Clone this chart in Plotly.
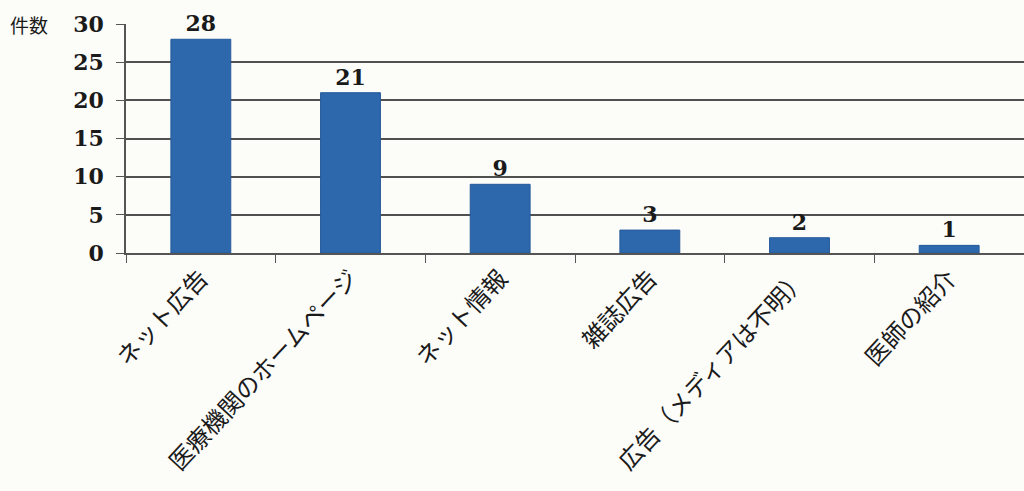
import plotly.graph_objects as go

categories = ["ネット広告", "医療機関のホームページ", "ネット情報", "雑誌広告", "広告（メディアは不明）", "医師の紹介"]
values = [28, 21, 9, 3, 2, 1]
y_ticks = [0, 5, 10, 15, 20, 25, 30]

fig = go.Figure()
fig.add_trace(go.Bar(
    x=categories, y=values,
    marker=dict(color="#2d68ad", line=dict(color="#25599a", width=1)),
    width=0.4,
    text=[f"<b>{v}</b>" for v in values],
    textposition="outside",
    textfont=dict(family="DejaVu Serif", size=22, color="#1a1a1a"),
    cliponaxis=False,
))

fig.update_layout(
    width=1024, height=491,
    margin=dict(l=126, r=0, t=24, b=238, autoexpand=False),
    paper_bgcolor="#fcfcf9", plot_bgcolor="#fcfcf9",
    showlegend=False,
    font=dict(family="Noto Sans CJK JP", color="#1a1a1a"),
    xaxis=dict(
        tickangle=-47,
        tickfont=dict(family="Noto Sans CJK JP", size=24, color="#1a1a1a"),
        showline=True, linecolor="#555", linewidth=1.5,
        ticks="outside", ticklen=8, tickcolor="#555", tickson="boundaries",
        showgrid=False,
        range=[-0.5, 5.5],
    ),
    yaxis=dict(
        range=[0, 30],
        tickvals=y_ticks,
        ticktext=[f"<b>{t}</b>" for t in y_ticks],
        tickfont=dict(family="DejaVu Serif", size=22, color="#1a1a1a"),
        ticklabelstandoff=8,
        showline=True, linecolor="#555", linewidth=1.5,
        ticks="outside", ticklen=8, tickcolor="#555",
        showgrid=True, gridcolor="#505050", gridwidth=1.5,
        zeroline=False,
    ),
    annotations=[dict(
        text="件数", xref="paper", yref="paper",
        x=(8 - 126) / 898, y=1, xanchor="left", yanchor="middle",
        showarrow=False,
        font=dict(family="Noto Sans CJK JP", size=19, color="#1a1a1a"),
    )],
)

fig.write_html("out.html", config={"displayModeBar": False},
               post_script="document.body.style.margin='0';document.body.style.overflow='hidden';")
